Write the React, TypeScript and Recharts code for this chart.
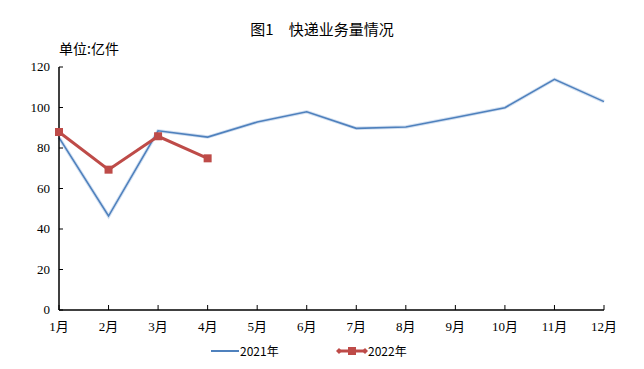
import React from 'react';
import { LineChart, Line, XAxis, YAxis } from 'recharts';

const months = ['1月', '2月', '3月', '4月', '5月', '6月', '7月', '8月', '9月', '10月', '11月', '12月'];
const vol2021 = [85.1, 46.4, 88.5, 85.4, 92.8, 97.9, 89.7, 90.4, 95.1, 99.9, 113.9, 102.9];
const vol2022 = [87.9, 69.3, 85.8, 74.9];
const yTicks = [0, 20, 40, 60, 80, 100, 120];

const data = months.map((m, i) => ({
  month: m,
  y2021: vol2021[i],
  y2022: i < vol2022.length ? vol2022[i] : null,
}));

const BLUE = '#4f81bd';
const RED = '#be4b48';
const FONT = '"Liberation Serif", "Noto Sans CJK SC", serif';
const CJK = '"Noto Sans CJK SC", sans-serif';

const SquareDot = (props: any) => {
  const { cx, cy } = props;
  if (cx == null || cy == null) return null;
  return <rect x={cx - 4} y={cy - 4} width={8} height={8} fill={RED} />;
};

// ticks drawn inside the plot, like the original
const MonthTick = (props: any) => {
  const { x, y, payload } = props;
  return (
    <g>
      <line x1={x} y1={y} x2={x} y2={y - 5} stroke="#000" />
      <text x={x} y={y + 21} textAnchor="middle" fontSize={13} fontFamily={FONT} fill="#000">
        {payload.value}
      </text>
    </g>
  );
};

const ValueTick = (props: any) => {
  const { x, y, payload } = props;
  return (
    <g>
      <line x1={x} y1={y} x2={x + 4} y2={y} stroke="#000" />
      <text x={x - 9} y={y + 4} textAnchor="end" fontSize={13} fontFamily={FONT} fill="#000">
        {payload.value}
      </text>
    </g>
  );
};

export default function App() {
  return (
    <div style={{ position: 'absolute', left: 0, top: 0, width: 644, height: 369, background: '#fff' }}>
      <div style={{ position: 'absolute', left: 0, width: 644, top: 18, textAlign: 'center', fontFamily: CJK, fontSize: 15, color: '#000' }}>
        图1　快递业务量情况
      </div>
      <div style={{ position: 'absolute', left: 59, top: 38, fontFamily: CJK, fontSize: 14, color: '#000' }}>
        单位:亿件
      </div>
      <LineChart width={644} height={369} data={data} margin={{ top: 67, right: 40, bottom: 29, left: 0 }}>
        <XAxis
          dataKey="month"
          scale="point"
          padding={{ left: 0, right: 0 }}
          axisLine={{ stroke: '#000', strokeWidth: 1.5 }}
          tickLine={false}
          tickSize={0}
          tickMargin={0}
          height={30}
          interval={0}
          tick={<MonthTick />}
        />
        <YAxis
          domain={[0, 120]}
          ticks={yTicks}
          width={59}
          axisLine={{ stroke: '#000', strokeWidth: 1.5 }}
          tickLine={false}
          tickSize={0}
          tickMargin={0}
          tick={<ValueTick />}
        />
        <Line dataKey="y2021" stroke="#d3e0f1" strokeWidth={3.5} dot={false} isAnimationActive={false} />
        <Line dataKey="y2021" stroke={BLUE} strokeWidth={1.6} dot={false} isAnimationActive={false} />
        <Line dataKey="y2022" stroke={RED} strokeWidth={3} dot={<SquareDot />} isAnimationActive={false} connectNulls={false} />
      </LineChart>
      <div style={{ position: 'absolute', left: 0, top: 342, width: 644, height: 18, fontFamily: CJK, fontSize: 12, color: '#000' }}>
        <svg width={30} height={18} style={{ position: 'absolute', left: 210, top: 0 }}>
          <line x1={1} y1={9} x2={29} y2={9} stroke={BLUE} strokeWidth={2} />
        </svg>
        <span style={{ position: 'absolute', left: 240, top: 0 }}>2021年</span>
        <svg width={32} height={18} style={{ position: 'absolute', left: 336, top: 0 }}>
          <line x1={2} y1={9} x2={30} y2={9} stroke={RED} strokeWidth={3} />
          <polygon points="0,9 3,6 6,9 3,12" fill={RED} />
          <polygon points="26,9 29,6 32,9 29,12" fill={RED} />
          <rect x={12} y={5} width={8} height={8} fill={RED} />
        </svg>
        <span style={{ position: 'absolute', left: 368, top: 0 }}>2022年</span>
      </div>
    </div>
  );
}
